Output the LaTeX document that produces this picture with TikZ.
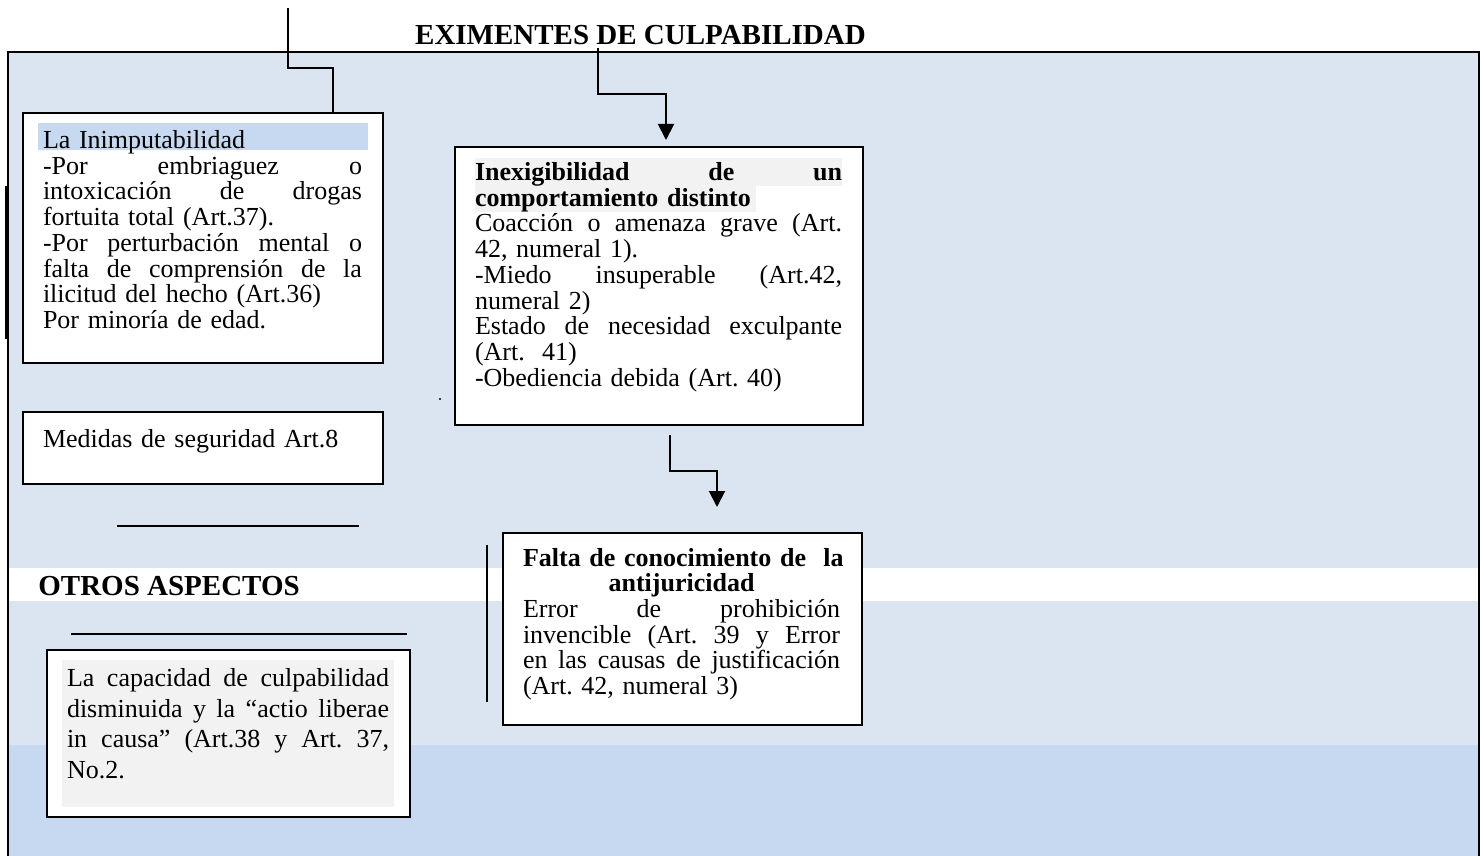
\documentclass[tikz,border=0pt]{standalone}
\usepackage{fontspec}
\setmainfont{Liberation Serif}
\usetikzlibrary{arrows.meta}
\definecolor{bgblue}{HTML}{DBE5F1}
\definecolor{bgdark}{HTML}{C6D9F1}
\definecolor{hlblue}{HTML}{C6D9F1}
\definecolor{hlgray}{HTML}{F2F2F2}
\newcommand\jl[2]{\leavevmode\hbox to #1{\spaceskip=0.25em plus 3em minus 0.05em\relax #2}}
\newcommand\cl[2]{\leavevmode\hbox to #1{\hfil#2\hfil}}
\newcommand\bodyfont{\fontsize{13pt}{12.85pt}\selectfont\lineskiplimit=-20pt\parindent=0pt\frenchspacing}
\newcommand\capfont{\fontsize{13pt}{15.35pt}\selectfont\lineskiplimit=-20pt\parindent=0pt\frenchspacing}
\newcommand\headfont{\fontsize{14.5pt}{17pt}\selectfont\bfseries}
\tikzset{
  boxst/.style={draw=black, fill=white, line width=1pt, anchor=north west, inner sep=0pt, outer sep=0pt},
  txt/.style={anchor=north west, inner sep=0pt, outer sep=0pt, font=\bodyfont},
  conn/.style={draw=black, line width=1pt},
  arrowconn/.style={conn, -{Triangle[width=8pt,length=8pt]}},
  rulest/.style={draw=black, line width=1pt},
  frame/.style={draw=black, line width=1.3pt},
  head/.style={inner sep=0pt, font=\headfont}
}
\begin{document}
\begin{tikzpicture}[x=0.5pt, y=-0.5pt]
\useasboundingbox (0,0) rectangle (1484,856);
% background bands
\fill[bgblue] (8,52) rectangle (1479,856);
\fill[bgdark] (8,745) rectangle (1479,856);
\fill[white] (8,568) rectangle (1479,601);
% frame
\draw[frame] (8,856) -- (8,52) -- (1479,52) -- (1479,856);
\draw[line width=1.2pt] (6,186) -- (6,339);

% title
\node[head, anchor=base] (title) at (640.5,45) {EXIMENTES DE CULPABILIDAD};

% boxes
\node[boxst, minimum width=180pt, minimum height=125pt] (inim) at (23,113) {};
\node[boxst, minimum width=180pt, minimum height=36pt] (med) at (23,412) {};
\node[boxst, minimum width=204pt, minimum height=139pt] (mid) at (455,147) {};
\node[boxst, minimum width=179.5pt, minimum height=96pt] (falta) at (503,533) {};
\node[boxst, minimum width=181.5pt, minimum height=83.5pt] (cap) at (47,650) {};

% highlights
\fill[hlblue] (38,123) rectangle (368,150);
\fill[hlgray] (475,158) rectangle (842,186);
\fill[hlgray] (475,186) rectangle (756,212);
\fill[hlgray] (62,660) rectangle (394,807);

% texts
\node[txt, text width=159.5pt] (inimt) at (43,130.5) {\noindent
\strut La Inimputabilidad\\
\jl{159.5pt}{-Por embriaguez o}\\
\jl{159.5pt}{intoxicación de drogas}\\
fortuita total (Art.37).\\
\jl{159.5pt}{-Por perturbación mental o}\\
\jl{159.5pt}{falta de comprensión de la}\\
ilicitud del hecho (Art.36)\\
Por minoría de edad.};

\node[txt, text width=159.5pt] (medt) at (43,429) {\noindent\strut Medidas de seguridad Art.8};

\node[txt, text width=183.5pt] (midt) at (475,162.5) {\noindent
\strut\jl{183.5pt}{\bfseries Inexigibilidad de un}\\
{\bfseries comportamiento distinto}\\
\jl{183.5pt}{Coacción o amenaza grave (Art.}\\
42, numeral 1).\\
\jl{183.5pt}{-Miedo insuperable (Art.42,}\\
numeral 2)\\
\jl{183.5pt}{Estado de necesidad exculpante}\\
(Art.\ \ 41)\\
-Obediencia debida (Art. 40)};

\node[txt, text width=158.5pt] (faltat) at (523,548) {\noindent
\strut\cl{158.5pt}{\bfseries Falta de conocimiento de\ \ la}\\
\cl{158.5pt}{\bfseries antijuricidad}\\
\jl{158.5pt}{Error de prohibición}\\
\jl{158.5pt}{invencible (Art. 39 y Error}\\
\jl{158.5pt}{en las causas de justificación}\\
(Art. 42, numeral 3)};

\node[txt, text width=161pt, font=\capfont] (capt) at (67,665) {\noindent
\strut\jl{161pt}{La capacidad de culpabilidad}\\
\jl{161pt}{disminuida y la “actio liberae}\\
\jl{161pt}{in causa” (Art.38 y Art. 37,}\\
No.2.};

\node[head, anchor=base west] (otros) at (38,595) {OTROS ASPECTOS};

% small dot
\node[circle, fill=black, inner sep=0pt, minimum size=1.2pt] (dot) at (440,399) {};

% rules
\coordinate (r1a) at (117,526); \coordinate (r1b) at (359,526);
\coordinate (r2a) at (71,634); \coordinate (r2b) at (407,634);
\draw[rulest] (r1a) -- (r1b);
\draw[rulest] (r2a) -- (r2b);
\coordinate (v1a) at (487,545); \coordinate (v1b) at (487,702);
\draw[rulest] (v1a) -- (v1b);

% connectors
\coordinate (tl) at (288,8);
\coordinate (c1) at (333,0);
\draw[conn] (tl) -- ++(0,60) -| (c1 |- inim.north);

\coordinate (t1) at (598,48);
\coordinate (c2) at (666,0);
\draw[arrowconn, shorten >=3.5pt] (t1) -- ++(0,46) -| (c2 |- mid.north);

\coordinate (c3) at (670,0);
\coordinate (c4) at (717,0);
\draw[arrowconn, shorten <=5pt, shorten >=13pt] (c3 |- mid.south) -- ++(0,46) -| (c4 |- falta.north);
\end{tikzpicture}
\end{document}
